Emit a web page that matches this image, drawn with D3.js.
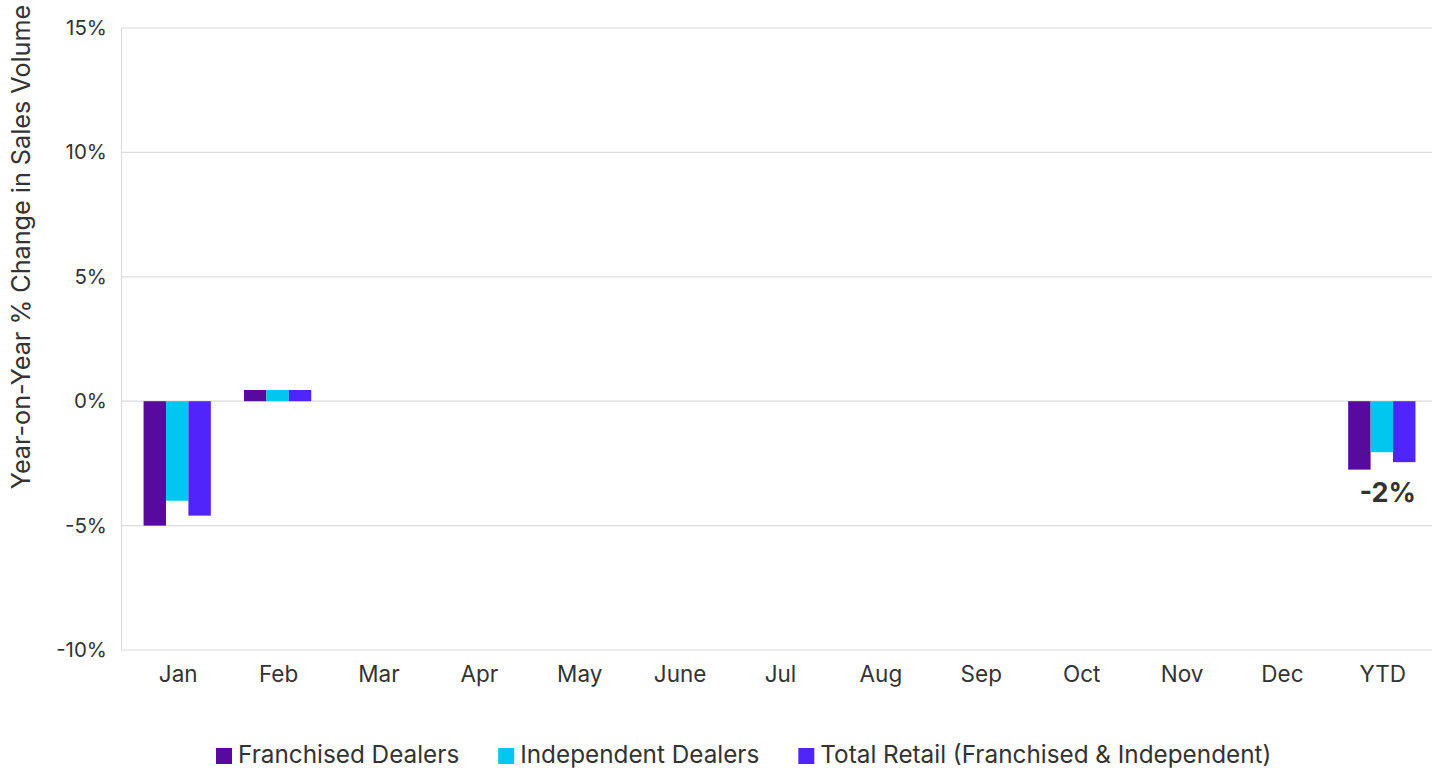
<!DOCTYPE html>
<html lang="en">
<head>
    <meta charset="UTF-8">
    <title>Year-on-Year % Change in Sales Volume</title>
    <style>
        body {
            margin: 0;
            padding: 0;
            background: #fff;
            font-family: Inter, "Noto Sans", Arial, sans-serif;
        }
        .tick text { fill: #333; }
    </style>
</head>
<body>
    <script src="https://d3js.org/d3.v7.min.js"></script>
    <script>
        const months = ["Jan", "Feb", "Mar", "Apr", "May", "June", "Jul", "Aug", "Sep", "Oct", "Nov", "Dec", "YTD"];
        const seriesNames = ["Franchised Dealers", "Independent Dealers", "Total Retail (Franchised & Independent)"];
        const franchised = [-5.0, 0.45, null, null, null, null, null, null, null, null, null, null, -2.75];
        const independent = [-4.0, 0.45, null, null, null, null, null, null, null, null, null, null, -2.05];
        const totalRetail = [-4.6, 0.45, null, null, null, null, null, null, null, null, null, null, -2.45];
        const yTicks = [-10, -5, 0, 5, 10, 15];
        const colors = ["#580a9e", "#00c6f0", "#5024fb"];
        const ytdLabel = "-2%";

        const width = 1445, height = 776;
        const margin = { top: 28, right: 13, bottom: 126, left: 127 };

        const svg = d3.select("body").append("svg")
            .attr("width", width)
            .attr("height", height);

        const x = d3.scaleBand()
            .domain(months)
            .range([margin.left, width - margin.right])
            .paddingInner(0.33)
            .paddingOuter(0.165);

        const xSub = d3.scaleBand()
            .domain(d3.range(seriesNames.length))
            .range([0, x.bandwidth()]);

        const y = d3.scaleLinear()
            .domain([-10, 15])
            .range([height - margin.bottom, margin.top]);

        // gridlines
        svg.append("g")
            .selectAll("line")
            .data(yTicks)
            .enter().append("line")
            .attr("x1", 121)
            .attr("x2", width - margin.right)
            .attr("y1", d => y(d))
            .attr("y2", d => y(d))
            .attr("stroke", "#dcdcdc")
            .attr("stroke-width", 1.2);

        // left axis line
        svg.append("line")
            .attr("x1", 121.5).attr("x2", 121.5)
            .attr("y1", y(15)).attr("y2", y(-10))
            .attr("stroke", "#dcdcdc")
            .attr("stroke-width", 1.2);

        // y axis
        const yAxis = svg.append("g")
            .attr("transform", `translate(${107},0)`)
            .call(d3.axisLeft(y).tickValues(yTicks).tickSize(0).tickFormat(d => d + "%"));
        yAxis.select(".domain").remove();
        yAxis.selectAll("text")
            .attr("font-family", "Inter, sans-serif")
            .attr("font-size", 20.5)
            .attr("x", 0);

        // x axis
        const xAxis = svg.append("g")
            .attr("transform", `translate(1,${y(-10) + 13})`)
            .call(d3.axisBottom(x).tickSize(0));
        xAxis.select(".domain").remove();
        xAxis.selectAll("text")
            .attr("font-family", "Inter, sans-serif")
            .attr("font-size", 22.5)
            .attr("dy", "0.71em");

        // bars
        const series = [franchised, independent, totalRetail];
        series.forEach((vals, si) => {
            svg.append("g")
                .selectAll("rect")
                .data(months.map((m, i) => ({ m, v: vals[i] })).filter(d => d.v !== null))
                .enter().append("rect")
                .attr("x", d => x(d.m) + xSub(si))
                .attr("width", xSub.bandwidth())
                .attr("y", d => y(Math.max(0, d.v)))
                .attr("height", d => Math.abs(y(d.v) - y(0)))
                .attr("fill", colors[si]);
        });

        // YTD label
        svg.append("text")
            .attr("x", x("YTD") + x.bandwidth() / 2 + 6)
            .attr("y", y(-3.75))
            .attr("text-anchor", "middle")
            .attr("dominant-baseline", "middle")
            .attr("font-family", "Inter, sans-serif")
            .attr("font-weight", "bold")
            .attr("font-size", 27)
            .attr("fill", "#333")
            .text(ytdLabel);

        // y axis title
        svg.append("text")
            .attr("transform", `translate(30,247) rotate(-90)`)
            .attr("text-anchor", "middle")
            .attr("font-family", "Inter, sans-serif")
            .attr("font-size", 25.2)
            .attr("fill", "#333")
            .text("Year-on-Year % Change in Sales Volume");

        // legend
        const legend = svg.append("g").attr("transform", "translate(0,756)");
        let lx = 216;
        seriesNames.forEach((name, i) => {
            const item = legend.append("g").attr("transform", `translate(${lx},0)`);
            item.append("rect")
                .attr("x", 0).attr("y", -8)
                .attr("width", 16).attr("height", 16)
                .attr("fill", colors[i]);
            const t = item.append("text")
                .attr("x", 22)
                .attr("dominant-baseline", "middle")
                .attr("font-family", "Inter, sans-serif")
                .attr("font-size", 24.3)
                .attr("fill", "#333")
                .text(name);
            lx += 22 + t.node().getComputedTextLength() + 39;
        });
    </script>
</body>
</html>
